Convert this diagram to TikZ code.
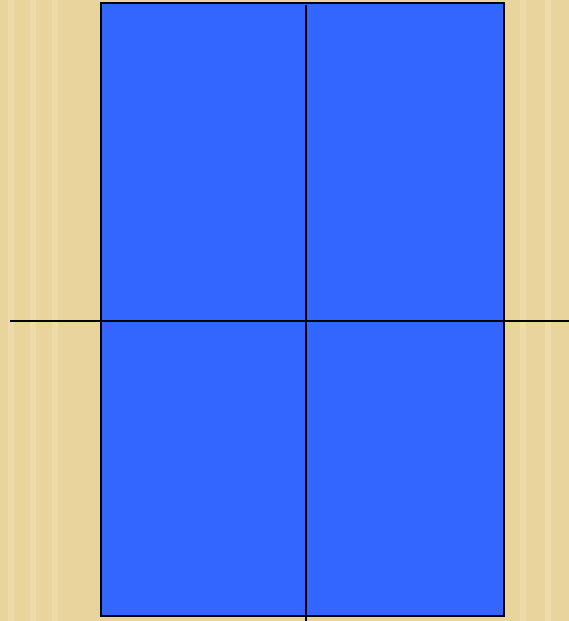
\documentclass[tikz,border=0pt]{standalone}
\definecolor{parch}{RGB}{234,212,158}
\definecolor{parchlight}{RGB}{242,226,180}
\definecolor{boxblue}{RGB}{51,102,255}
\begin{document}
\begin{tikzpicture}[x=1pt,y=-1pt,
  panel/.style={fill=boxblue,draw=black,line width=2pt},
  axis/.style={draw=black,line width=1.6pt}]
\fill[parch] (0,0) rectangle (569,621);
\useasboundingbox (0,0) rectangle (569,621);
\foreach \x in {8,30,52,520,545}{\fill[parchlight,opacity=0.5] (\x,0) rectangle (\x+6,621);}
\path[panel] (101,3) rectangle (504,616);
\coordinate (hl) at (10,321);
\coordinate (hr) at (569,321);
\coordinate (vt) at (306,5);
\coordinate (vb) at (306,621);
\draw[axis] (hl) -- (hr);
\draw[axis] (vt) -- (vb);
\end{tikzpicture}
\end{document}
